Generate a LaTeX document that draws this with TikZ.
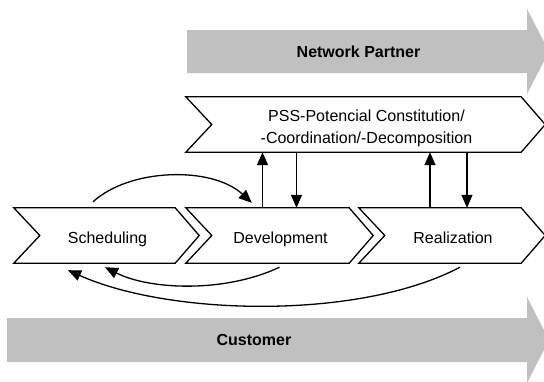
\documentclass[tikz,border=0pt]{standalone}
\usepackage{fontspec}
\setmainfont{Liberation Sans}
\usetikzlibrary{arrows.meta}
\definecolor{bandgray}{RGB}{192,192,192}
\tikzset{
  body/.style={inner sep=0pt, minimum height=55pt, font=\fontsize{16}{22}\selectfont, align=center},
  oneline/.style={text height=15pt, text depth=0pt},
  chevline/.style={draw=black, line width=1.3pt, line join=miter},
  band/.style={fill=bandgray, draw=none},
  bandtext/.style={font=\fontsize{16}{18}\selectfont\bfseries},
  flow/.style={line width=1.3pt, -{Triangle[length=13pt,width=11pt]}}
}
\begin{document}
\begin{tikzpicture}[x=1pt,y=-1pt]
\useasboundingbox (0,0) rectangle (544,381);
\clip (0,0) rectangle (544,381);
% gray bands
\fill[band] (187,30) -- (527,30) -- (527,9) -- (549,51.5) -- (527,94) -- (527,73) -- (187,73) -- cycle;
\fill[band] (7,318) -- (527,318) -- (527,297) -- (549,340) -- (527,383) -- (527,362) -- (7,362) -- cycle;
\node[bandtext] (np) at (358.5,51.5) {Network Partner};
\node[bandtext] (cu) at (254,340) {Customer};
% chevron bodies
\node[body, oneline, minimum width=135pt] (sched) at (107.5,235.5) {Scheduling};
\node[body, oneline, minimum width=137pt] (dev) at (280.5,235.5) {Development};
\node[body, oneline, minimum width=136pt] (real) at (453,235.5) {Realization};
\node[body, minimum width=309pt] (pss) at (366.5,124.5) {};
\node[body, minimum height=0pt] (psstext) at ([yshift=-3.5pt]pss.center) {PSS-Potencial Constitution/\\-Coordination/-Decomposition};
\foreach \n in {sched,dev,real,pss}
  \draw[chevline] ([xshift=-26pt]\n.north west) -- (\n.north east) -- ([xshift=24pt]\n.east)
     -- (\n.south east) -- ([xshift=-26pt]\n.south west) -- (\n.west) -- cycle;
% vertical arrows
\draw[flow] ([xshift=-18pt]dev.north) -- ([xshift=-18pt]dev.north |- pss.south);
\draw[flow] ([xshift=16pt]dev.north |- pss.south) -- ([xshift=16pt]dev.north);
\draw[flow] ([xshift=-23pt]real.north) -- ([xshift=-23pt]real.north |- pss.south);
\draw[flow] ([xshift=14pt]real.north |- pss.south) -- ([xshift=14pt]real.north);
% curved arrows
\coordinate (s1) at ([xshift=-14.5pt,yshift=6pt]sched.north);
\coordinate (e1) at ([xshift=40pt,yshift=5pt]dev.north west);
\draw[flow] (s1) .. controls (130,168) and (212,166) .. (e1);
\coordinate (s2) at ([xshift=-1pt,yshift=-4pt]dev.south);
\coordinate (e2) at ([xshift=-2.5pt,yshift=-4pt]sched.south);
\draw[flow] (s2) .. controls (225,293) and (150,290) .. (e2);
\coordinate (s3) at ([xshift=7pt,yshift=-4pt]real.south);
\coordinate (e3) at ([xshift=-39.5pt,yshift=-7pt]sched.south);
\draw[flow] (s3) .. controls (360,320) and (170,316) .. (e3);
\end{tikzpicture}
\end{document}
